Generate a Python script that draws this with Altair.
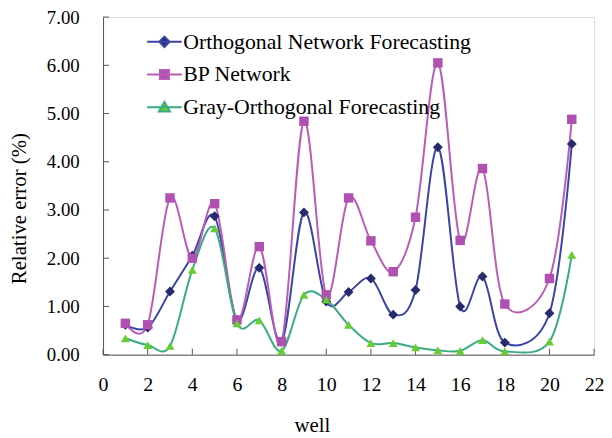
import altair as alt
import pandas as pd

wells = [1, 2, 3, 4, 5, 6, 7, 8, 9, 10, 11, 12, 13, 14, 15, 16, 17, 18, 20, 21]
ortho = [0.62, 0.56, 1.31, 2.05, 2.87, 0.72, 1.80, 0.27, 2.95, 1.10, 1.30, 1.58,
         0.83, 1.34, 4.30, 1.00, 1.62, 0.25, 0.86, 4.37]
bp = [0.65, 0.62, 3.25, 2.00, 3.13, 0.72, 2.24, 0.27, 4.84, 1.24, 3.25, 2.36,
      1.72, 2.85, 6.05, 2.37, 3.86, 1.05, 1.58, 4.88]
gray = [0.34, 0.20, 0.18, 1.76, 2.62, 0.65, 0.71, 0.08, 1.24, 1.14, 0.62, 0.24,
        0.24, 0.15, 0.09, 0.08, 0.30, 0.07, 0.27, 2.07]

series_names = ["Orthogonal Network Forecasting", "BP Network", "Gray-Orthogonal Forecasting"]
line_colors = ["#3b44a6", "#b85cb8", "#3aab82"]
marker_colors = ["#262b6b", "#b050b0", "#66cc33"]
marker_shapes = ["diamond", "square", "triangle-up"]
legend_paths = [
    "M-2,0L2,0M0,-0.6L0.6,0L0,0.6L-0.6,0Z",
    "M-2,0L2,0M-0.52,-0.52L0.52,-0.52L0.52,0.52L-0.52,0.52Z",
    "M-2,0L2,0M0,-0.6L0.64,0.5L-0.64,0.5Z",
]
x_ticks = list(range(0, 23, 2))
y_ticks = [0, 1, 2, 3, 4, 5, 6, 7]

rows = []
for name, vals in zip(series_names, [ortho, bp, gray]):
    for w, v in zip(wells, vals):
        rows.append({"well": w, "value": v, "series": name})
df = pd.DataFrame(rows)

FONT = "Liberation Serif"
W, H = 496, 341

x_enc = alt.X("well:Q", scale=alt.Scale(domain=[0, 22], nice=False),
              axis=alt.Axis(values=x_ticks, title="well", grid=False, ticks=False,
                            labelPadding=20, labelFontSize=20, labelFont=FONT,
                            labelColor="black", titleFont=FONT, titleFontSize=21,
                            titleFontWeight="normal", titleColor="black",
                            titleX=211, titleY=72, titleBaseline="middle",
                            domainColor="#555555", labelFlush=False))
y_enc = alt.Y("value:Q", scale=alt.Scale(domain=[0, 7], nice=False),
              axis=alt.Axis(values=y_ticks, format=".2f", title="Relative error (%)",
                            grid=False, ticks=False, labelPadding=24, labelFontSize=19,
                            labelFont=FONT, labelColor="black", titleFont=FONT,
                            titleFontSize=21, titleFontWeight="normal", titleColor="black",
                            titleAngle=270, titleX=-84, titleY=193, titleAlign="center",
                            titleBaseline="middle", domainColor="#555555", labelFlush=False))

base = alt.Chart(df)

lines = base.mark_line(interpolate="cardinal", strokeWidth=2).encode(
    x=x_enc, y=y_enc,
    stroke=alt.Stroke("series:N", scale=alt.Scale(domain=series_names, range=line_colors), legend=None),
    detail="series:N",
)

points = base.mark_point(filled=True, opacity=1, strokeWidth=0).encode(
    x="well:Q", y="value:Q",
    shape=alt.Shape("series:N", scale=alt.Scale(domain=series_names, range=marker_shapes), legend=None),
    fill=alt.Fill("series:N", scale=alt.Scale(domain=series_names, range=marker_colors), legend=None),
    size=alt.Size("series:N", scale=alt.Scale(domain=series_names, range=[100, 81, 121]), legend=None),
)

legend_layer = base.transform_filter("false").mark_point(filled=True, opacity=1).encode(
    x="well:Q", y="value:Q",
    shape=alt.Shape("series:N", scale=alt.Scale(domain=series_names, range=legend_paths),
                    legend=alt.Legend(title=None, orient="none", legendX=51, legendY=14,
                                      symbolSize=306, symbolStrokeWidth=2, labelFont=FONT,
                                      labelFontSize=22, labelColor="black", labelOffset=8,
                                      rowPadding=11, padding=0, labelLimit=0)),
    fill=alt.Fill("series:N", scale=alt.Scale(domain=series_names, range=marker_colors)),
    stroke=alt.Stroke("series:N", scale=alt.Scale(domain=series_names, range=line_colors)),
)

x_tick_df = pd.DataFrame({"t": x_ticks})
y_tick_df = pd.DataFrame({"t": y_ticks})
xticks = alt.Chart(x_tick_df).mark_rule(color="#555555", strokeWidth=1).encode(
    x=alt.X("t:Q"), y=alt.value(H), y2=alt.value(H - 6))
yticks = alt.Chart(y_tick_df).mark_rule(color="#555555", strokeWidth=1).encode(
    y=alt.Y("t:Q"), x=alt.value(0), x2=alt.value(6))

chart = alt.layer(xticks, yticks, lines, points, legend_layer).resolve_scale(
    shape="independent", fill="independent", stroke="independent", size="independent"
).properties(
    width=W, height=H,
    autosize=alt.AutoSizeParams(type="none"),
    padding={"left": 96, "top": 7, "right": 10, "bottom": 82},
).configure_view(stroke="#8c8c8c", strokeWidth=1.2).configure(background="white")

chart.save("out.html", embed_options={"renderer": "svg", "actions": False})
